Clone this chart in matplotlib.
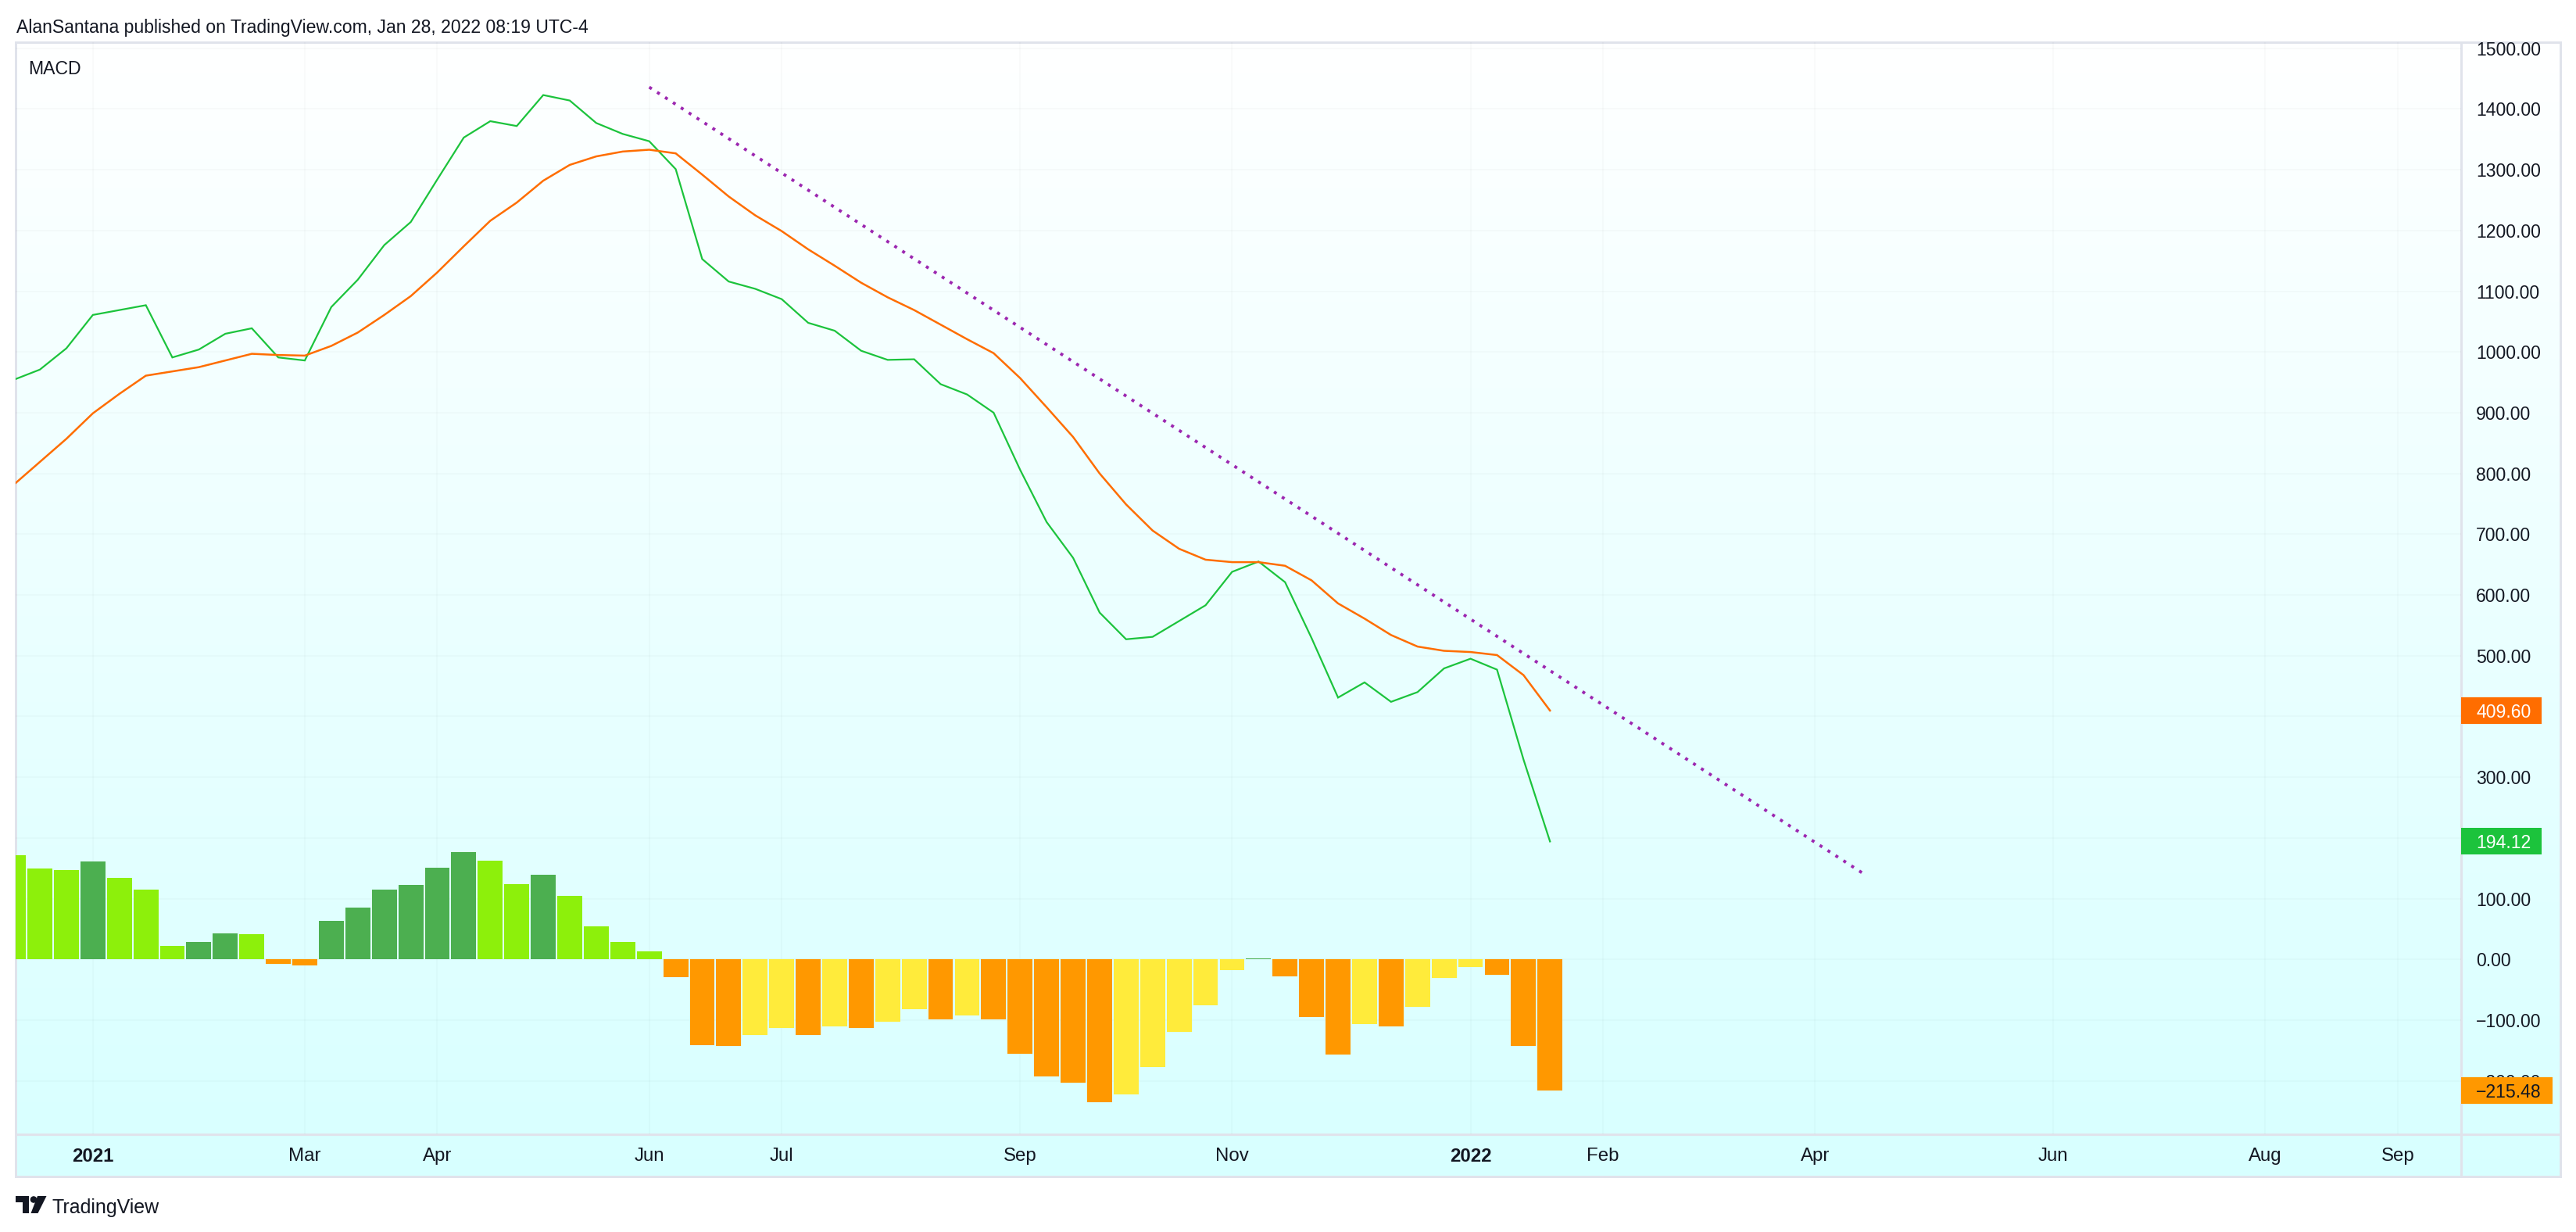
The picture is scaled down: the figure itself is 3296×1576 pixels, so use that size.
import numpy as np
import matplotlib
matplotlib.use("Agg")
import matplotlib.pyplot as plt
from matplotlib.patches import Rectangle, Polygon, Circle
from matplotlib.ticker import FuncFormatter
import matplotlib.transforms as mtrans

# ---------------- data (weekly bars) ----------------
macd = [954, 971, 1006, 1061, 1069, 1077, 991, 1004, 1030, 1039,
        991, 986, 1074, 1119, 1176, 1214, 1284, 1353, 1380, 1372,
        1423, 1414, 1377, 1359, 1347, 1301, 1153, 1116, 1104, 1087,
        1048, 1035, 1002, 987, 988, 947, 930, 900, 806, 720,
        661, 571, 527, 531, 557, 583, 638, 655, 621, 529,
        431, 456, 424, 440, 479, 495, 477, 329, 194.12]
signal = [781, 819, 857, 899, 931, 961, 968, 975, 986, 997,
          995, 994, 1010, 1032, 1061, 1092, 1131, 1174, 1216, 1246,
          1282, 1308, 1322, 1330, 1333, 1327, 1292, 1256, 1225, 1199,
          1169, 1142, 1114, 1090, 1069, 1045, 1021, 998, 957, 909,
          860, 800, 749, 706, 676, 658, 654, 654, 648, 624,
          586, 561, 534, 515, 508, 506, 501, 468, 409.60]
hist = [172, 150, 147, 161.5, 134, 115, 22, 28.6, 43, 41.6,
        -7.8, -10.4, 63, 85, 115, 122, 151, 177, 163, 124,
        139, 105, 54.5, 28.6, 13, -29, -141, -143, -125, -113,
        -124, -110, -113, -103, -82, -99, -93, -99, -156, -193,
        -203, -235, -223, -177, -120, -76, -18, 2, -28, -95,
        -157, -106, -111, -78, -31, -13, -26, -142, -215.48]
time_tick_pos = [3, 11, 16, 24, 29, 38, 46, 55, 60, 68, 77, 85, 90]
time_tick_labels = ['2021', 'Mar', 'Apr', 'Jun', 'Jul', 'Sep', 'Nov',
                    '2022', 'Feb', 'Apr', 'Jun', 'Aug', 'Sep']
price_ticks = list(range(-200, 1600, 100))
hidden_price_labels = [200, 400]      # covered by the last-value tags
trend_x = [24.0, 69.8]
trend_y = [1436, 142]

title = "AlanSantana published on TradingView.com, Jan 28, 2022 08:19 UTC-4"

# ---------------- styling ----------------
C_MACD = '#1CC33C'
C_SIG = '#FF6D00'
C_DKG = '#4CAF50'
C_LTG = '#8DF00B'
C_ORG = '#FF9800'
C_YEL = '#FFEB3B'
C_TXT = '#131722'
C_BORDER = '#E0E3EB'

W, H, DPI = 3296, 1576, 200
plt.rcParams['font.family'] = ['Liberation Sans', 'DejaVu Sans']

def px2pt(p):
    return p * 72.0 / DPI

fig = plt.figure(figsize=(W / DPI, H / DPI), dpi=DPI, facecolor='white')

PL, PR, PT, PB = 20, 3276, 54, 1505      # whole chart pane
AX_R, AX_B = 3149, 1451                  # plot area right / bottom

# background / decoration layer in pixel coordinates
deco = fig.add_axes([0, 0, 1, 1], zorder=0)
deco.set_xlim(0, W)
deco.set_ylim(H, 0)
deco.axis('off')

g = np.linspace(0, 1, 256)[:, None, None]
top = np.array([1.0, 1.0, 1.0])
bot = np.array([0.845, 1.0, 1.0])
img = top + (bot - top) * g
deco.imshow(img, extent=[PL, PR, PB, PT], aspect='auto',
            interpolation='bilinear', zorder=0)
deco.add_patch(Rectangle((PL, PT), PR - PL, PB - PT, fill=False,
                         ec=C_BORDER, lw=px2pt(3), zorder=1))
deco.plot([AX_R, AX_R], [PT, PB], color=C_BORDER, lw=px2pt(3), zorder=1)
deco.plot([PL, PR], [AX_B, AX_B], color=C_BORDER, lw=px2pt(3), zorder=1)

deco.text(21, 42, title, ha='left', va='baseline', color=C_TXT,
          fontsize=px2pt(23))

# TradingView logo
deco.add_patch(Rectangle((20, 1530), 17, 7.5, color=C_TXT, lw=0))
deco.add_patch(Rectangle((29, 1530), 8, 22, color=C_TXT, lw=0))
deco.add_patch(Circle((43, 1534.5), 4.3, color=C_TXT, lw=0))
deco.add_patch(Polygon([[48, 1530], [59.5, 1530], [48.5, 1552], [39.5, 1552]],
                       closed=True, color=C_TXT, lw=0))
deco.text(67, 1552, 'TradingView', ha='left', va='baseline', color=C_TXT,
          fontsize=px2pt(25))

# main axes
ax_w_px = AX_R - PL
ax_h_px = AX_B - PT
ax = fig.add_axes([PL / W, 1 - AX_B / H, ax_w_px / W, ax_h_px / H], zorder=1)
ax.set_facecolor('none')
for s in ax.spines.values():
    s.set_visible(False)

YMIN, YMAX = -288, 1510
ax.set_xlim(0.085, 92.39)
ax.set_ylim(YMIN, YMAX)

x = np.arange(len(hist))
colors = []
prev = np.inf
for h in hist:
    if h >= 0:
        colors.append(C_DKG if h > prev else C_LTG)
    else:
        colors.append(C_ORG if h < prev else C_YEL)
    prev = h

ax.bar(x, hist, width=0.94, color=colors, linewidth=0, zorder=2)
ax.plot(x, macd, color=C_MACD, lw=0.8, zorder=3, solid_joinstyle='miter')
ax.plot(x, signal, color=C_SIG, lw=0.9, zorder=3, solid_joinstyle='miter')
ax.plot(trend_x, trend_y, color='#9C27B0', lw=1.4, linestyle=(0, (1, 2.1)),
        zorder=4)

# axes ticks
def fmt(v):
    return f"{v:.2f}".replace('-', '\u2212')

ax.yaxis.tick_right()
ax.set_yticks(price_ticks)
ax.yaxis.set_major_formatter(FuncFormatter(
    lambda v, p: '' if int(round(v)) in hidden_price_labels else fmt(v)))
ax.tick_params(axis='y', length=0, pad=px2pt(19), labelsize=px2pt(23),
               labelcolor=C_TXT)
ax.set_xticks(time_tick_pos)
ax.set_xticklabels(time_tick_labels)
ax.tick_params(axis='x', length=0, pad=px2pt(17), labelsize=px2pt(24),
               labelcolor=C_TXT)
for lab in ax.get_xticklabels():
    if lab.get_text() in ('2021', '2022'):
        lab.set_fontweight('bold')

ax.set_axisbelow(True)
ax.grid(True, color='#2A2E39', alpha=0.025, lw=px2pt(2))

deco.text(36, 95, 'MACD', ha='left', va='baseline', color=C_TXT,
          fontsize=px2pt(23), zorder=5)

# last value labels on the price axis
ppu = ax_h_px / (YMAX - YMIN)
trans = mtrans.blended_transform_factory(ax.transAxes, ax.transData)
for val, fc, tc, wpx in [(signal[-1], C_SIG, 'white', 103),
                         (macd[-1], C_MACD, 'white', 103),
                         (hist[-1], C_ORG, C_TXT, 117)]:
    hh = 17 / ppu
    ax.add_patch(Rectangle((1.0, val - hh), wpx / ax_w_px, 2 * hh,
                           transform=trans, clip_on=False, fc=fc, ec='none',
                           zorder=6))
    ax.text(1.0 + 19 / ax_w_px, val, fmt(val), transform=trans, ha='left',
            va='center_baseline', color=tc, fontsize=px2pt(23), zorder=7,
            clip_on=False)

fig.savefig('out.png', dpi=DPI, facecolor='white')
